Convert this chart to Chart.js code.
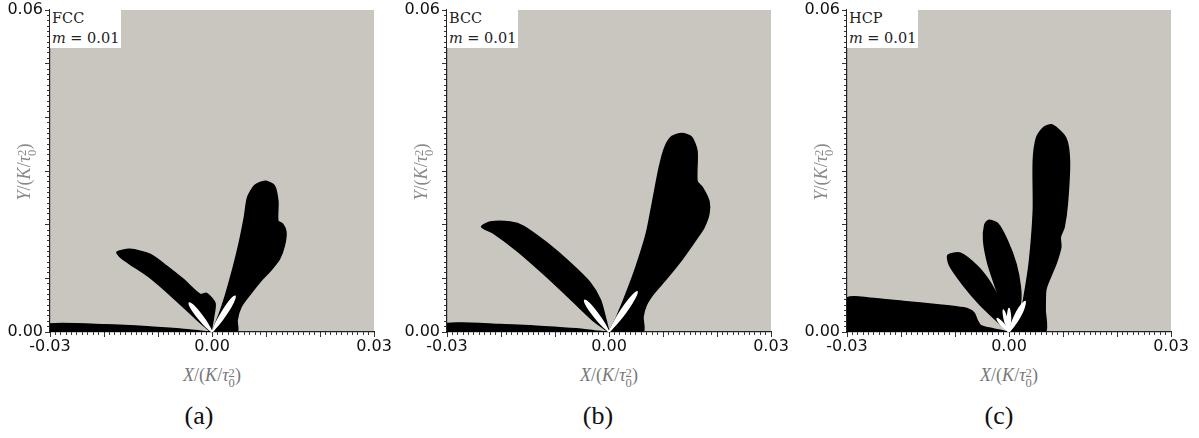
<!DOCTYPE html>
<html>
<head>
<meta charset="utf-8">
<script src="https://cdn.jsdelivr.net/npm/chart.js@4"></script>
<style>
    body { margin: 0; width: 1199px; height: 438px; position: relative; overflow: hidden; background: #fff; font-family: "Liberation Serif", serif; }
    canvas { position: absolute; top: 0; }
    .box { position: absolute; top: 8px; width: 71px; height: 40px; background: #fff; font-family: "DejaVu Serif", serif; font-size: 14.5px; line-height: 20px; padding-left: 2px; box-sizing: border-box; color: #222; white-space: nowrap; }
    .xt { position: absolute; top: 365px; width: 160px; margin-left: -80px; text-align: center; color: #777; font-size: 18px; white-space: nowrap; }
    .yt { position: absolute; top: 160px; width: 160px; height: 24px; margin-left: -80px; text-align: center; color: #888; font-size: 18px; white-space: nowrap; transform: rotate(-90deg); }
    .ss { display: inline-block; vertical-align: -0.45em; line-height: 0.8em; font-size: 0.7em; font-style: normal; text-align: left; }
    .lab { position: absolute; top: 401px; width: 60px; margin-left: -30px; text-align: center; font-size: 26px; color: #111; }
</style>
</head>
<body>
<canvas id="fcc" width="397" height="360" style="left:0"></canvas>
<canvas id="bcc" width="400" height="360" style="left:397px"></canvas>
<canvas id="hcp" width="402" height="360" style="left:797px"></canvas>

<div class="box" style="left:50px">FCC<br><i>m</i> = 0.01</div>
<div class="box" style="left:447px">BCC<br><i>m</i> = 0.01</div>
<div class="box" style="left:847px">HCP<br><i>m</i> = 0.01</div>

<div class="xt" style="left:212px"><i>X</i>/(<i>K</i>/<i>τ</i><span class="ss">2<br>0</span>)</div>
<div class="xt" style="left:609px"><i>X</i>/(<i>K</i>/<i>τ</i><span class="ss">2<br>0</span>)</div>
<div class="xt" style="left:1009px"><i>X</i>/(<i>K</i>/<i>τ</i><span class="ss">2<br>0</span>)</div>

<div class="yt" style="left:26px"><i>Y</i>/(<i>K</i>/<i>τ</i><span class="ss">2<br>0</span>)</div>
<div class="yt" style="left:423px"><i>Y</i>/(<i>K</i>/<i>τ</i><span class="ss">2<br>0</span>)</div>
<div class="yt" style="left:823px"><i>Y</i>/(<i>K</i>/<i>τ</i><span class="ss">2<br>0</span>)</div>

<div class="lab" style="left:199px">(a)</div>
<div class="lab" style="left:598px">(b)</div>
<div class="lab" style="left:999px">(c)</div>

<script>
// axis labels
const xTickLabels = ["-0.03", "0.00", "0.03"];
const yTickLabels = ["0.00", "0.06"];

// (a) FCC - black regions and white petals, [x, y]
const fccStrip = [[-0.03, 0], [-0.03, 0.0015], [-0.020, 0.00135], [-0.012, 0.0010], [-0.006, 0.00055], [-0.002, 0.00015], [0, 0]];
const fccLeft = [[-0.0002, 0], [-0.0030, 0.0025], [-0.0074, 0.0066], [-0.0117, 0.0103], [-0.0154, 0.0128], [-0.0170, 0.0140],
    [-0.0176, 0.0149], [-0.0152, 0.0154], [-0.0115, 0.0145], [-0.0084, 0.0123], [-0.0053, 0.0098], [-0.0022, 0.0070],
    [-0.0010, 0.0072], [0.00055, 0.0054], [0.00030, 0.0028], [-0.0002, 0]];
const fccRight = [[0, 0], [0.0014, 0.0035], [0.0026, 0.0072], [0.0038, 0.0115], [0.0050, 0.0164], [0.0060, 0.0214], [0.0066, 0.0251],
    [0.0079, 0.0273], [0.0098, 0.0281], [0.0115, 0.0273], [0.0122, 0.0244], [0.0122, 0.0207], [0.0131, 0.0201], [0.0137, 0.0186],
    [0.0134, 0.0161], [0.0125, 0.0136], [0.0109, 0.0115], [0.0091, 0.0096], [0.0072, 0.0072], [0.0054, 0.0047], [0.00465, 0.0022],
    [0.00465, 0], [0, 0]];
const fccPetalL = [[0, 0], [-0.00081, 0.00153], [-0.00178, 0.00294], [-0.00285, 0.00428], [-0.00366, 0.00512], [-0.0042, 0.0054],
    [-0.00406, 0.00482], [-0.00345, 0.00382], [-0.00242, 0.00246], [-0.00129, 0.00117], [0, 0]];
const fccPetalR = [[0, 0], [0.00132, 0.00151], [0.00248, 0.00311], [0.00354, 0.00478], [0.00413, 0.0060], [0.00426, 0.00667],
    [0.00371, 0.00628], [0.00286, 0.00522], [0.00178, 0.00357], [0.00082, 0.00183], [0, 0]];

// (b) BCC
const bccStrip = [[-0.03, 0], [-0.03, 0.0016], [-0.020, 0.0014], [-0.012, 0.0010], [-0.006, 0.0006], [-0.002, 0.00015], [0, 0]];
const bccLeft = [[0, 0], [-0.0028, 0.0020], [-0.0072, 0.0062], [-0.0121, 0.0108], [-0.0170, 0.0151], [-0.0214, 0.0184], [-0.0236, 0.0196],
    [-0.0220, 0.0205], [-0.0183, 0.0205], [-0.0158, 0.0197], [-0.0115, 0.0166], [-0.0072, 0.0129], [-0.0035, 0.0092],
    [-0.0016, 0.0060], [-0.0007, 0.0028], [0, 0]];
const bccRight = [[0, 0], [0.0014, 0.0028], [0.0032, 0.0072], [0.0050, 0.0121], [0.0069, 0.0183], [0.0081, 0.0244], [0.0093, 0.0306],
    [0.0103, 0.0343], [0.0116, 0.0364], [0.0135, 0.0370], [0.0153, 0.0363], [0.0163, 0.0337], [0.0163, 0.0281], [0.0173, 0.0269],
    [0.0185, 0.0244], [0.0185, 0.0220], [0.0176, 0.0195], [0.0163, 0.0175], [0.0135, 0.0135], [0.0107, 0.0100], [0.0083, 0.0072],
    [0.0069, 0.0050], [0.0063, 0.0028], [0.0063, 0], [0, 0]];
const bccPetalL = [[0, 0], [-0.00089, 0.00166], [-0.00192, 0.0032], [-0.00306, 0.00467], [-0.00394, 0.00558], [-0.0045, 0.0059],
    [-0.00434, 0.00528], [-0.00369, 0.00418], [-0.00258, 0.0027], [-0.00136, 0.00129], [0, 0]];
const bccPetalR = [[0, 0], [0.00155, 0.0017], [0.00297, 0.00349], [0.00424, 0.00539], [0.00499, 0.00676], [0.0052, 0.0075],
    [0.00457, 0.00704], [0.00356, 0.00586], [0.00223, 0.00401], [0.00105, 0.00205], [0, 0]];

// (c) HCP
const hcpBase = [[-0.03, 0], [-0.03, 0.0063], [-0.0257, 0.0063], [-0.0195, 0.0057], [-0.0133, 0.0051], [-0.0084, 0.0045],
    [-0.0065, 0.0036], [-0.0059, 0.0022], [-0.0052, 0.0012], [-0.0030, 0.0006], [0, 0]];
const hcpLobe1 = [[0, 0], [-0.0023, 0.0021], [-0.0055, 0.0052], [-0.0086, 0.0089], [-0.0110, 0.0124], [-0.0113, 0.0143],
    [-0.0090, 0.0147], [-0.0058, 0.0122], [-0.0034, 0.0091], [-0.0015, 0.0054], [-0.0004, 0.0016], [0, 0]];
const hcpLobe2 = [[0, 0], [-0.0007, 0.0028], [-0.0023, 0.0078], [-0.0039, 0.0127], [-0.0047, 0.0170], [-0.0045, 0.0199],
    [-0.0038, 0.0208], [-0.0021, 0.0202], [-0.0003, 0.0170], [0.0013, 0.0127], [0.0021, 0.0084], [0.0021, 0.0053],
    [0.0009, 0.0016], [0, 0]];
const hcpLobe3 = [[0, 0], [0.0020, 0.0028], [0.0029, 0.0072], [0.0038, 0.0133], [0.0045, 0.0226], [0.0045, 0.0319], [0.0051, 0.0362],
    [0.0064, 0.0381], [0.0080, 0.0386], [0.0105, 0.0362], [0.0112, 0.0319], [0.0108, 0.0238], [0.0102, 0.0195], [0.0095, 0.0177],
    [0.0096, 0.0158], [0.0087, 0.0127], [0.0074, 0.0096], [0.0068, 0.0078], [0.0067, 0.0041], [0.0067, 0], [0, 0]];
const hcpPetal1 = [[0, 0], [-0.00091, 0.00142], [-0.00161, 0.00213], [-0.0022, 0.0025], [-0.00191, 0.00187], [-0.00129, 0.00109], [0, 0]];
const hcpPetal2 = [[0, 0], [-0.00028, 0.00211], [-0.00067, 0.00332], [-0.00105, 0.0041], [-0.00101, 0.00324], [-0.00077, 0.00199], [0, 0]];
const hcpPetal3 = [[0, 0], [0.00028, 0.0022], [0.0002, 0.00352], [0, 0.0044], [-0.0002, 0.00352], [-0.00028, 0.0022], [0, 0]];
const hcpPetal4 = [[0, 0], [0.00102, 0.00129], [0.0019, 0.00264], [0.00262, 0.00408], [0.00295, 0.00514], [0.003, 0.0057],
    [0.00257, 0.00534], [0.00188, 0.00447], [0.0011, 0.00306], [0.00048, 0.00156], [0, 0]];

const grey = "rgb(200, 198, 190)";

const plotBg = {
    id: "plotBg",
    beforeDraw(chart) {
        const { ctx, chartArea: a } = chart;
        ctx.save();
        ctx.fillStyle = grey;
        ctx.fillRect(a.left, a.top, a.right - a.left, a.bottom - a.top);
        ctx.restore();
    },
    // soft edges like the rendered field
    beforeDatasetsDraw(chart) {
        chart.ctx.save();
        chart.ctx.filter = "blur(0.7px)";
    },
    afterDatasetsDraw(chart) {
        chart.ctx.restore();
    }
};

function shape(pts, color, order) {
    return {
        data: pts.map(p => ({ x: p[0], y: p[1] })),
        fill: "shape",
        backgroundColor: color,
        borderColor: color,
        borderWidth: 1.5,
        pointRadius: 0,
        tension: 0.25,
        order: order
    };
}

function pickLabel(list, v) {
    const s = Math.abs(v) < 1e-9 ? "0.00" : v.toFixed(2);
    return list.includes(s) ? s : "";
}

const tickFont = { family: "DejaVu Sans", size: 16, lineHeight: 1 };

function panel(id, rightPad, blacks, whites) {
    const datasets = blacks.map(s => shape(s, "#000", 1)).concat(whites.map(s => shape(s, "#fff", 0)));
    new Chart(document.getElementById(id), {
        type: "line",
        data: { datasets },
        plugins: [plotBg],
        options: {
            responsive: false,
            animation: false,
            layout: { padding: { top: 8, right: rightPad, left: 0, bottom: 0 } },
            plugins: { legend: { display: false }, tooltip: { enabled: false } },
            scales: {
                x: {
                    type: "linear", min: -0.03, max: 0.03,
                    afterFit: s => { s.height = 0; },
                    ticks: { stepSize: 0.001, display: false, autoSkip: false, maxTicksLimit: 100 },
                    grid: { drawOnChartArea: false, tickLength: 3, tickColor: "#333" },
                    border: { color: "#222", width: 1.2 }
                },
                x2: {
                    type: "linear", position: "bottom", min: -0.03, max: 0.03,
                    afterFit: s => { s.height = 28; },
                    ticks: { stepSize: 0.01, autoSkip: false, maxRotation: 0, padding: 2, color: "#111", font: tickFont,
                        callback: v => pickLabel(xTickLabels, v) },
                    grid: { drawOnChartArea: false, tickLength: 5, tickColor: "#333" },
                    border: { display: false }
                },
                y: {
                    type: "linear", min: 0, max: 0.06,
                    afterFit: s => { s.width = 0; },
                    ticks: { stepSize: 0.001, display: false, autoSkip: false, maxTicksLimit: 100 },
                    grid: { drawOnChartArea: false, tickLength: 3, tickColor: "#333" },
                    border: { color: "#222", width: 1.2 }
                },
                y2: {
                    type: "linear", position: "left", min: 0, max: 0.06,
                    afterFit: s => { s.width = 50; },
                    ticks: { stepSize: 0.01, autoSkip: false, padding: 2, color: "#111", font: tickFont,
                        callback: v => pickLabel(yTickLabels, v) },
                    grid: { drawOnChartArea: false, tickLength: 5, tickColor: "#333" },
                    border: { display: false }
                }
            }
        }
    });
}

panel("fcc", 23, [fccStrip, fccLeft, fccRight], [fccPetalL, fccPetalR]);
panel("bcc", 26, [bccStrip, bccLeft, bccRight], [bccPetalL, bccPetalR]);
panel("hcp", 28, [hcpBase, hcpLobe1, hcpLobe2, hcpLobe3], [hcpPetal1, hcpPetal2, hcpPetal3, hcpPetal4]);
</script>
</body>
</html>
